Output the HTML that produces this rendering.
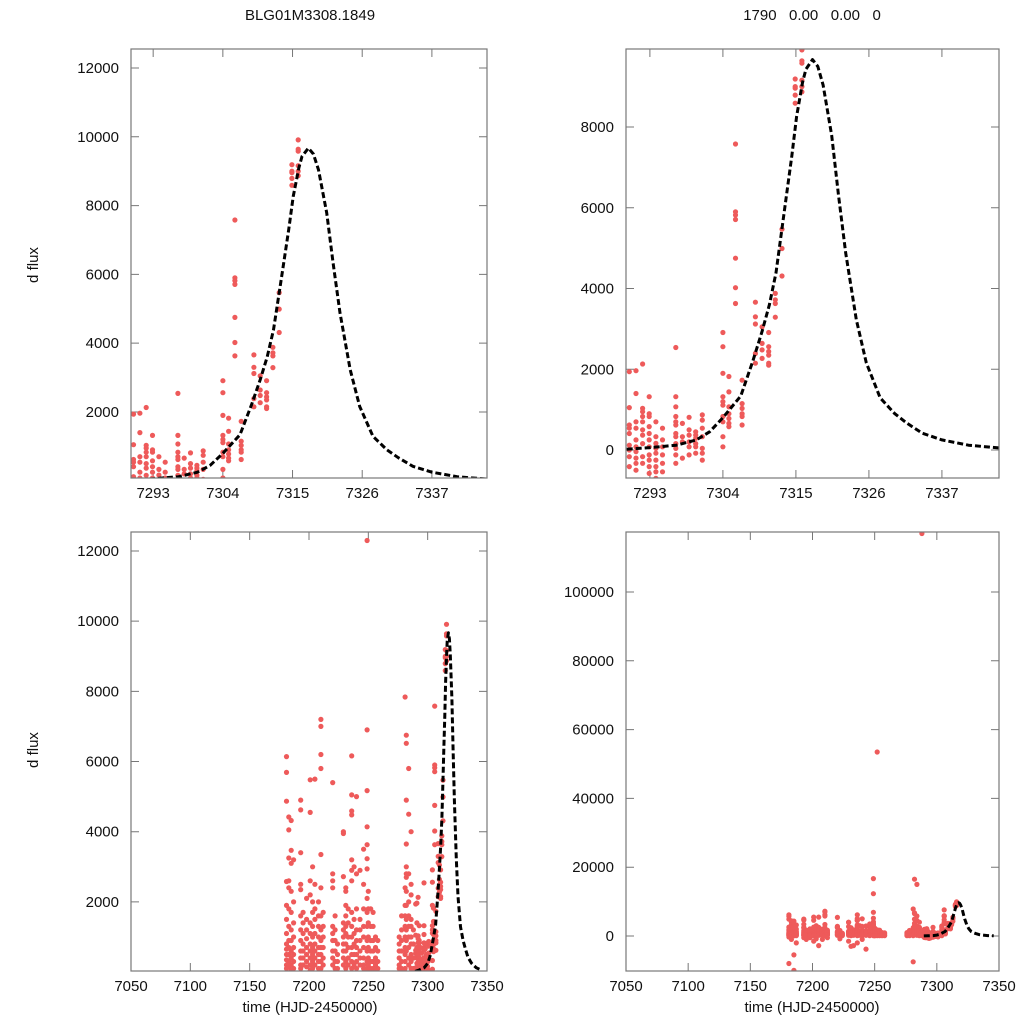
<!DOCTYPE html>
<html><head><meta charset="utf-8"><style>
html,body{margin:0;padding:0;background:#fff;overflow:hidden;width:1024px;height:1024px;}
svg{display:block;font-family:"Liberation Sans",sans-serif;}
text{white-space:pre;}
</style></head><body>
<svg id="chart" width="1024" height="1024" viewBox="0 0 1024 1024"></svg>
<script>
// ---- observed data: nights and flux values ----
const nightT = [7181,7183,7185,7187,7193,7195,7198,7201,7203,7205,7208,7210,7212,7220,7222,7224,7229,7231,7233,7236,7238,7240,7243,7246,7249,7250,7252,7254,7256,7258,
7276,7278,7281,7282,7284,7286,7288,
7289.9,7290.9,7291.9,7292.9,7293.9,7294.9,7296.9,7297.9,7298.9,7299.9,7300.9,7304.0,7304.9,7305.9,7306.9,7308.9,7309.9,7310.9,7311.9,7312.9,7314.9,7315.9];
const nightF = [
[6140,5690,4870,2580,1900,1500,1100,800,650,500,350,200,100,-300,-8000],
[4420,4050,3250,2600,2400,1800,1300,900,700,500,300,150,-1000],
[4320,3470,3100,2300,1700,1200,900,600,400,200,50,-5500,-10000],
[3200,2000,1400,1000,700,500,300,100,-2000],
[4900,4620,3400,2500,2350,1600,1200,900,600,400,200,100,-500],
[1700,1400,1100,800,600,400,200,-1000],
[2100,1500,1200,950,700,500,300,150,-500],
[5480,4550,2600,2200,1400,1100,800,600,400,200,50,-1500],
[3000,2000,1700,1300,1000,700,500,300,100,-800],
[5500,2500,1800,1500,1100,800,600,400,200,-2800],
[2000,1600,1300,1000,700,500,300,100,-1000],
[7200,6200,3350,2400,1600,1200,900,700,500,300,100,5800,7000],
[1700,1300,1000,700,400,200,-500],
[5400,2800,2600,2400,1300,1100,900,600,400,200],
[1600,1200,900,600,300,100,-800],
[800,500,300,100],
[4000,3950,2720,1400,1200,1000,800,600,400,200,-1500],
[2400,2300,1900,1600,1300,1100,800,600,300,100,-3000],
[1800,1400,1000,700,400,200,-2800],
[6160,5050,4590,4480,3200,2900,2600,1700,1300,1000,700,500,300,100,-2000],
[3000,1500,1100,800,500,200],
[2800,1800,1200,900,700,500,300,100,5000,-1000],
[2900,1500,1200,900,600,400,200,-3800],
[2500,1800,1300,1000,700,400,200,100,3500],
[16700,12300,6900,5170,4140,3630,3230,2940,2100,1700,1300,900,600,300,100],
[2300,1800,1400,1000,700,400,200,50],
[53500,1800,1300,900,600,300,100],
[1700,1300,900,600,300,100],
[1000,700,400,200,100],
[900,600,300,100],
[1000,800,600,400,200,100],
[1600,1200,900,600,300,100],
[7840,2400,1900,1600,1300,1000,700,500,300,100,-7500],
[6750,6520,4900,3650,3000,2800,2700,2300,1900,1500,1200,900,600,16500],
[5800,4500,2800,2000,1600,1300,1000,700,400,200,15000],
[4000,2500,2200,1500,1300,1000,800,500,300,100],
[117000,1200,800,400,100],
[1940,1050,620,540,410,120,0,-165,-410],
[1965,1400,700,540,250,80,-40,-200,-330,-500],
[2130,1030,950,830,700,500,370,160,-165,-330],
[1320,900,830,580,410,250,80,-120,-250,-410,-580],
[700,330,165,40,-80,-250,-410,-540,-700],
[540,250,80,-120,-330,-540],
[2540,1320,1070,830,700,620,410,330,160,40,-120,-330],
[660,330,200,-200],
[810,500,370,200,80,-120],
[450,370,290,160,80,-80],
[870,740,540,330,40,-80,-250],
[2910,2560,1900,1320,1200,1110,830,700,330,80],
[1820,1440,1070,900,780,660,580],
[7580,5900,5820,5710,4750,4020,3630],
[1730,1150,1030,900,830,620],
[3660,3300,3120,2390,2150],
[3050,2640,2480,2270],
[2910,2560,2440,2350,2150,2100],
[3880,3720,3630,3290],
[5470,4990,4310],
[9190,9000,8960,8790,8590],
[9910,9640,9580,9160,9000,8870]
];
// ---- model curve samples ----
const modelT = [7289.5,7293,7297,7300,7302,7304,7306.7,7308.5,7309.9,7311,7312,7313,7313.6,7314.4,7315.1,7316,7316.5,7317.5,7318.3,7319.1,7320.4,7321.4,7322.5,7324.1,7325.6,7327.7,7329.9,7331.7,7334,7337,7341,7345.7];
const modelF = [20,60,120,250,450,800,1340,2200,2940,3600,4390,5600,6330,7300,8260,9100,9430,9670,9500,9040,7790,6330,4880,3230,2160,1290,900,670,420,250,120,50];
// ---- tick labels ----
const ticksZoomX = [7293,7304,7315,7326,7337];
const ticksWideX = [7050,7100,7150,7200,7250,7300,7350];
const ticksTL_Y = [2000,4000,6000,8000,10000,12000];
const ticksTR_Y = [0,2000,4000,6000,8000];
const ticksBL_Y = [2000,4000,6000,8000,10000,12000];
const ticksBR_Y = [0,20000,40000,60000,80000,100000];

const NS="http://www.w3.org/2000/svg";
const svg=document.getElementById('chart');
function mk(tag,attrs,parent){const e=document.createElementNS(NS,tag);for(const k in attrs)e.setAttribute(k,attrs[k]);(parent||svg).appendChild(e);return e;}

const panels=[
 {id:'top-left',x0:131,x1:487,y0:49,y1:478,xmin:7289.5,xmax:7345.7,ymin:81,ymax:12552,xt:ticksZoomX,yt:ticksTL_Y},
 {id:'top-right',x0:626,x1:999,y0:49,y1:478,xmin:7289.4,xmax:7345.6,ymin:-693,ymax:9932,xt:ticksZoomX,yt:ticksTR_Y},
 {id:'bottom-left',x0:131,x1:487,y0:532,y1:971,xmin:7050,xmax:7350,ymin:30,ymax:12541,xt:ticksWideX,yt:ticksBL_Y},
 {id:'bottom-right',x0:626,x1:999,y0:532,y1:971,xmin:7050,xmax:7350,ymin:-10174,ymax:117440,xt:ticksWideX,yt:ticksBR_Y}
];

panels.forEach((p,pi)=>{
  const sx=t=>p.x0+(t-p.xmin)/(p.xmax-p.xmin)*(p.x1-p.x0);
  const sy=v=>p.y1-(v-p.ymin)/(p.ymax-p.ymin)*(p.y1-p.y0);
  const g=mk('g',{});
  
  
  const cp=mk('clipPath',{id:'clip'+pi},g);
  mk('rect',{x:p.x0,y:p.y0,width:p.x1-p.x0,height:p.y1-p.y0},cp);
  p.xt.forEach(t=>{
    const x=sx(t);
    const tk=mk('path',{d:`M${x},${p.y1}v-8M${x},${p.y0}v8`,stroke:'#777','stroke-width':1},g);
    
    
    const lb=mk('text',{x:x,y:p.y1+20,'text-anchor':'middle','font-size':15,fill:'#111'},g);
    lb.textContent=t;
    
    
  });
  p.yt.forEach(v=>{
    const y=sy(v);
    const tk=mk('path',{d:`M${p.x0},${y}h8M${p.x1},${y}h-8`,stroke:'#777','stroke-width':1},g);
    
    
    const lb=mk('text',{x:p.x0-12,y:y+5,'text-anchor':'end','font-size':15,fill:'#111'},g);
    lb.textContent=v;
    
    
  });
  const pg=mk('g',{'clip-path':`url(#clip${pi})`},g);
  
  
  nightT.forEach((t,i)=>{
    nightF[i].forEach(f=>{
      if(t<p.xmin-0.5||t>p.xmax+0.5||f<p.ymin-(p.ymax-p.ymin)*0.01||f>p.ymax+(p.ymax-p.ymin)*0.01)return;
      const c=mk('circle',{cx:sx(t).toFixed(1),cy:sy(f).toFixed(1),r:2.6,fill:'#ee5a5a'},pg);
      
      
    });
  });
  const d=modelT.map((t,i)=>(i?'L':'M')+sx(t).toFixed(1)+','+Math.min(p.y1+2,sy(modelF[i])).toFixed(1)).join('');
  const ln=mk('path',{d:d,fill:'none',stroke:'#000','stroke-width':3,'stroke-dasharray':'6,3','stroke-linejoin':'round','clip-path':`url(#clip${pi})`},g);
  
  
  const fr=mk('rect',{x:p.x0,y:p.y0,width:p.x1-p.x0,height:p.y1-p.y0,fill:'none',stroke:'#777','stroke-width':1.2},g);
  
  
});

function label(txt,x,y,name,rot){
  const t=mk('text',{x:x,y:y,'text-anchor':'middle','font-size':15,fill:'#111'});
  if(rot)t.setAttribute('transform',`rotate(-90 ${x} ${y})`);
  t.textContent=txt;
  
  
}
label('BLG01M3308.1849',310,20,'title-left');
label('1790   0.00   0.00   0',812,20,'title-right');
label('d flux',38,265,'y-axis-title-top',true);
label('d flux',38,750,'y-axis-title-bottom',true);
label('time (HJD-2450000)',310,1012,'x-axis-title-left');
label('time (HJD-2450000)',812,1012,'x-axis-title-right');
</script>
</body></html>
